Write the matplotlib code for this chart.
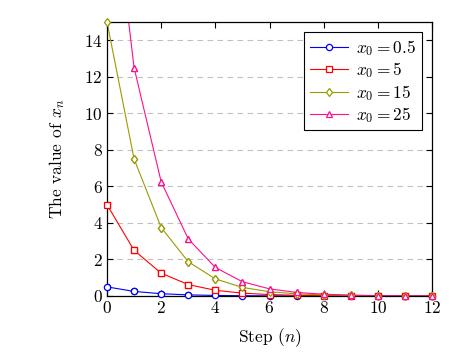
import numpy as np
import matplotlib.pyplot as plt

plt.rcParams['font.family'] = 'serif'
plt.rcParams['font.serif'] = ['cmr10']
plt.rcParams['mathtext.fontset'] = 'cm'
plt.rcParams['axes.formatter.use_mathtext'] = True

steps = [0, 1, 2, 3, 4, 5, 6, 7, 8, 9, 10, 11, 12]
x_05 = [0.5, 0.25, 0.125, 0.0625, 0.031, 0.016, 0.008, 0.004, 0.002, 0.001, 0.0005, 0.0002, 0.0001]
x_5 = [5, 2.5, 1.25, 0.625, 0.3125, 0.156, 0.078, 0.039, 0.0195, 0.0098, 0.0049, 0.0024, 0.0012]
x_15 = [15, 7.5, 3.75, 1.875, 0.9375, 0.469, 0.234, 0.117, 0.059, 0.029, 0.015, 0.007, 0.004]
x_25 = [25, 12.5, 6.25, 3.125, 1.5625, 0.781, 0.391, 0.195, 0.098, 0.049, 0.024, 0.012, 0.006]

labels = [r'$x_0 = 0.5$', r'$x_0 = 5$', r'$x_0 = 15$', r'$x_0 = 25$']
colors = ['#0000ff', '#ff0000', '#9a9a00', '#ff0f8a']
markers = ['o', 's', 'd', '^']

fig = plt.figure(figsize=(4.76, 3.56), dpi=100)
ax = fig.add_axes([107/476, 60/356, 325/476, 274/356])
ymax = 15

for ys, lab, c, m in zip([x_05, x_5, x_15, x_25], labels, colors, markers):
    ys = np.array(ys, dtype=float)
    ax.plot(steps, ys, color=c, marker=m, markersize=4.5, markerfacecolor='white',
            markeredgecolor=c, markeredgewidth=0.9, linewidth=0.8, label=lab)
    # markers sitting on the frame are not clipped
    ym = np.where(ys <= ymax, ys, np.nan)
    ax.plot(steps, ym, linestyle='none', marker=m, markersize=4.5, markerfacecolor='white',
            markeredgecolor=c, markeredgewidth=0.9, clip_on=False, zorder=5)

ax.set_xlim(0, 12)
ax.set_ylim(0, ymax)
ax.set_xticks(np.arange(0, 13, 2))
ax.set_yticks(np.arange(0, 15, 2))
ax.grid(True, axis='y', linestyle=(0, (5, 4)), color='#c0c0c0', linewidth=0.8)
ax.tick_params(direction='in', top=True, right=True, labelsize=12.5, length=4, pad=3)
ax.set_xlabel(r'Step $(n)$', fontsize=12.5, labelpad=7)
ax.set_ylabel(r'The value of $x_n$', fontsize=12.5, labelpad=12)
for s in ax.spines.values():
    s.set_linewidth(0.9)

leg = ax.legend(loc='upper right', fontsize=12.5, fancybox=False, edgecolor='black',
                framealpha=1, handlelength=2.2, borderpad=0.3, labelspacing=0.15,
                handletextpad=0.5, borderaxespad=0.6)
leg.get_frame().set_linewidth(0.8)

fig.savefig('out.png', dpi=100)
